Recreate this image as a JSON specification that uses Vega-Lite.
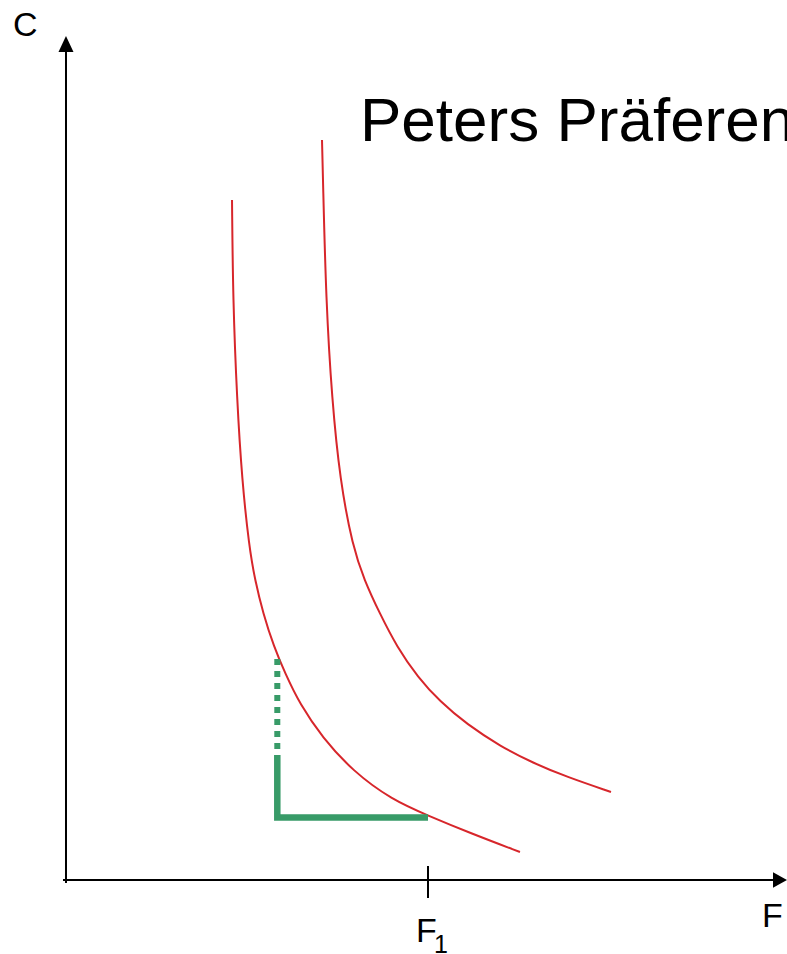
{
  "$schema": "https://vega.github.io/schema/vega-lite/v6.json",
  "width": 787,
  "height": 954,
  "padding": 0,
  "autosize": {"type": "none"},
  "background": "white",
  "config": {"view": {"stroke": null}},
  "datasets": {
    "axes": [
      {"x": 0, "y": -0.083, "x2": 0, "y2": 22.873},
      {"x": -0.083, "y": 0, "x2": 19.53, "y2": 0},
      {"x": 10, "y": 0.387, "x2": 10, "y2": -0.497}
    ],
    "arrowUp": [{"x": 0, "y": 23.094}],
    "arrowRight": [{"x": 19.724, "y": 0}],
    "curves": [
      {"curve": "inner", "x": 4.586, "y": 18.785},
      {"curve": "inner", "x": 4.613, "y": 16.022},
      {"curve": "inner", "x": 4.724, "y": 13.26},
      {"curve": "inner", "x": 4.862, "y": 11.05},
      {"curve": "inner", "x": 5.06, "y": 9.199},
      {"curve": "inner", "x": 5.221, "y": 8.287},
      {"curve": "inner", "x": 5.442, "y": 7.376},
      {"curve": "inner", "x": 5.746, "y": 6.436},
      {"curve": "inner", "x": 6.05, "y": 5.718},
      {"curve": "inner", "x": 6.464, "y": 4.85},
      {"curve": "inner", "x": 7.072, "y": 3.95},
      {"curve": "inner", "x": 7.928, "y": 3.0},
      {"curve": "inner", "x": 9.0, "y": 2.22},
      {"curve": "inner", "x": 10.0, "y": 1.78},
      {"curve": "inner", "x": 11.16, "y": 1.3},
      {"curve": "inner", "x": 12.541, "y": 0.773},
      {"curve": "outer", "x": 7.072, "y": 20.442},
      {"curve": "outer", "x": 7.099, "y": 19.337},
      {"curve": "outer", "x": 7.182, "y": 16.022},
      {"curve": "outer", "x": 7.348, "y": 13.26},
      {"curve": "outer", "x": 7.569, "y": 11.05},
      {"curve": "outer", "x": 7.92, "y": 9.199},
      {"curve": "outer", "x": 8.24, "y": 8.287},
      {"curve": "outer", "x": 8.66, "y": 7.376},
      {"curve": "outer", "x": 9.144, "y": 6.436},
      {"curve": "outer", "x": 9.72, "y": 5.6},
      {"curve": "outer", "x": 10.331, "y": 4.93},
      {"curve": "outer", "x": 11.077, "y": 4.3},
      {"curve": "outer", "x": 11.989, "y": 3.7},
      {"curve": "outer", "x": 12.901, "y": 3.232},
      {"curve": "outer", "x": 13.84, "y": 2.845},
      {"curve": "outer", "x": 15.055, "y": 2.431}
    ],
    "greenSolid": [
      {"o": 1, "x": 5.837, "y": 3.453},
      {"o": 2, "x": 5.837, "y": 1.727},
      {"o": 3, "x": 10.0, "y": 1.727}
    ],
    "greenDotted": [
      {"o": 1, "x": 5.837, "y": 6.105},
      {"o": 2, "x": 5.837, "y": 3.453}
    ],
    "title": [{"label": "Peters Präferenzen", "x": 8.122, "y": 20.414}],
    "axisLabels": [
      {"label": "C", "x": -1.464, "y": 23.315},
      {"label": "F", "x": 19.227, "y": -1.298},
      {"label": "F", "x": 9.669, "y": -1.713}
    ],
    "subscript": [{"label": "1", "x": 10.166, "y": -2.017}]
  },
  "encoding": {
    "x": {"field": "x", "type": "quantitative", "axis": null, "scale": {"domain": [-1.8232, 19.9171], "nice": false, "zero": false}},
    "y": {"field": "y", "type": "quantitative", "axis": null, "scale": {"domain": [-2.0442, 24.3094], "nice": false, "zero": false}}
  },
  "layer": [
    {
      "data": {"name": "curves"},
      "mark": {"type": "line", "color": "#d7262b", "strokeWidth": 2, "interpolate": "basis"},
      "encoding": {"detail": {"field": "curve", "type": "nominal"}}
    },
    {
      "data": {"name": "greenDotted"},
      "mark": {"type": "line", "color": "#389b68", "strokeWidth": 6, "strokeDash": [6, 6], "strokeCap": "butt"},
      "encoding": {"order": {"field": "o", "type": "quantitative"}}
    },
    {
      "data": {"name": "greenSolid"},
      "mark": {"type": "line", "color": "#389b68", "strokeWidth": 6.5, "strokeCap": "butt", "strokeJoin": "miter"},
      "encoding": {"order": {"field": "o", "type": "quantitative"}}
    },
    {
      "data": {"name": "axes"},
      "mark": {"type": "rule", "color": "black", "strokeWidth": 2},
      "encoding": {
        "x2": {"field": "x2"},
        "y2": {"field": "y2"}
      }
    },
    {
      "data": {"name": "arrowUp"},
      "mark": {"type": "point", "shape": "M0,-1.07L-1,1.07L1,1.07Z", "filled": true, "color": "black", "opacity": 1, "size": 225, "strokeWidth": 0}
    },
    {
      "data": {"name": "arrowRight"},
      "mark": {"type": "point", "shape": "M1,0L-1,-1.1L-1,1.1Z", "filled": true, "color": "black", "opacity": 1, "size": 196, "strokeWidth": 0}
    },
    {
      "data": {"name": "title"},
      "mark": {"type": "text", "font": "Liberation Sans", "fontSize": 62, "align": "left", "baseline": "alphabetic", "color": "black"},
      "encoding": {"text": {"field": "label"}}
    },
    {
      "data": {"name": "axisLabels"},
      "mark": {"type": "text", "font": "Liberation Sans", "fontSize": 34, "align": "left", "baseline": "alphabetic", "color": "black"},
      "encoding": {"text": {"field": "label"}}
    },
    {
      "data": {"name": "subscript"},
      "mark": {"type": "text", "font": "Liberation Sans", "fontSize": 25, "align": "left", "baseline": "alphabetic", "color": "black"},
      "encoding": {"text": {"field": "label"}}
    }
  ]
}
